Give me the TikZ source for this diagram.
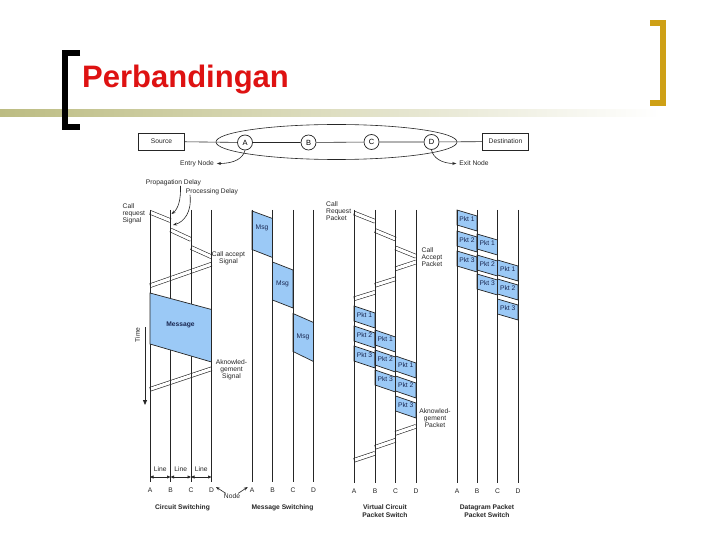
\documentclass[tikz,border=0pt]{standalone}
\usepackage{fontspec}
\setmainfont{Liberation Sans}
\usetikzlibrary{positioning,arrows.meta,shapes.geometric}
\definecolor{titlered}{RGB}{222,18,18}
\definecolor{bracketgold}{RGB}{206,160,22}
\definecolor{barolive}{RGB}{188,188,130}
\definecolor{pktblue}{RGB}{155,201,246}
\definecolor{inkdark}{RGB}{38,38,38}
\definecolor{msgnavy}{RGB}{25,38,80}
\tikzstyle{bracket} = [line width=6pt, line join=miter, line cap=butt]
\tikzstyle{lane} = [draw=inkdark, line width=1pt]
\tikzstyle{wire} = [draw=inkdark, line width=0.6pt]
\tikzstyle{dblsignal} = [draw=inkdark, line width=0.6pt, double=white, double distance=3.2pt]
\tikzstyle{packet} = [draw=inkdark, line width=0.7pt, fill=pktblue]
\tikzstyle{small} = [font=\fontsize{6.7}{7}\selectfont, text=inkdark, inner sep=0pt, align=center]
\tikzstyle{pktlabel} = [small, text=msgnavy]
\tikzstyle{caption} = [small, font=\fontsize{6.7}{7.4}\selectfont\bfseries]
\tikzstyle{box} = [rectangle, small, draw=inkdark, line width=0.6pt, minimum width=46pt, minimum height=17pt]
\tikzstyle{hop} = [circle, draw=inkdark, line width=0.7pt, minimum size=15pt, inner sep=0pt, font=\fontsize{7.5}{8}\selectfont]
\tikzstyle{arr} = [wire, -{Stealth[length=4pt,width=3pt]}]
\tikzstyle{dim} = [wire, {Triangle[length=3.5pt,width=3pt]}-{Triangle[length=3.5pt,width=3pt]}]
% packet: name, left lane, right lane, top, drop, text
\newcommand{\pkt}[6]{%
  \filldraw[packet] (#2,#4) -- (#3,#4+#5) -- (#3,#4+#5+15) -- (#2,#4+15) -- cycle;
  \node[pktlabel](#1) at ({(#2+#3)/2},#4+9){#6};}

\begin{document}
\begin{tikzpicture}[x=1pt,y=-1pt]
        \useasboundingbox (0,0) rectangle (720,540);
        \fill[white] (0,0) rectangle (720,540);
        % Title ------------------------------------------------------------------------------------
        \path[left color=barolive, middle color=barolive!75, right color=white] (0,110) rectangle (660,117);
        \draw[bracket, black] (80,53) -- (65,53) -- (65,127) -- (80,127);
        \draw[bracket, bracketgold] (650,23) -- (663,23) -- (663,103) -- (650,103);
        \node[anchor=base west, inner sep=0pt, text=titlered, font=\fontsize{31}{31}\selectfont\bfseries](title) at (82,88){Perbandingan};
        % Network ----------------------------------------------------------------------------------
        \node[draw=inkdark, line width=0.6pt, ellipse, minimum width=241pt, minimum height=35pt](net) at (336.5,142){};
        \node[box](source) at (161.5,141.5){Source};
        \node[box](dest) at (505.5,141.5){Destination};
        \node[hop, fill=white](hopA) at (245,142.5){A};
        \node[hop, fill=white](hopB) at (308.5,142.5){B};
        \node[hop, fill=white](hopC) at (371.5,142){C};
        \node[hop, fill=white](hopD) at (431.5,142){D};
        \draw[wire] (source) -- (hopA) -- (hopB) -- (hopC) -- (hopD) -- (dest);
        \node[small](entry) at (197,163.5){Entry Node};
        \node[small](exit) at (474,163.5){Exit Node};
        \draw[arr] (hopA.south) .. controls (243,158) and (235,163.5) .. ([xshift=3pt]entry.east);
        \draw[arr] (hopD.south) .. controls (433,158) and (442,163.5) .. ([xshift=-3pt]exit.west);
        % Circuit switching ------------------------------------------------------------------------
        \draw[dblsignal] (150,212.3) -- (170.5,220.6);
        \draw[dblsignal] (170.5,230) -- (191,239.5);
        \draw[dblsignal] (191,247.5) -- (211.5,256.8);
        \draw[dblsignal] (211.5,264.2) -- (150,285.7);
        \draw[dblsignal] (211.5,368.8) -- (150,389.3);
        \draw[lane] (150,210) -- (150,482) node[small, below=5pt](csA){A};
        \draw[lane] (170.5,210) -- (170.5,482) node[small, below=5pt](csB){B};
        \draw[lane] (191,210) -- (191,482) node[small, below=5pt](csC){C};
        \draw[lane] (211.5,210) -- (211.5,482) node[small, below=5pt](csD){D};
        \filldraw[packet] (150,293) -- (211.5,309.5) -- (211.5,362) -- (150,344) -- cycle;
        \node[pktlabel, font=\fontsize{6.7}{7}\selectfont\bfseries](message) at (180.5,325){Message};
        \node[small, align=left, anchor=north west](callreq) at (122.5,203.5){Call\\request\\Signal};
        \node[small](propdelay) at (173.5,182.5){Propagation Delay};
        \node[small](procdelay) at (212,191.5){Processing Delay};
        \draw[arr] ([xshift=7pt]propdelay.south) .. controls (181,200) and (178,209) .. (171.5,214);
        \draw[arr] ([xshift=-22pt]procdelay.south) .. controls (192,212) and (184,222) .. (173,225);
        \node[small](callacc) at (228.5,258){Call accept\\Signal};
        \node[small](ackcs) at (231.5,369.5){Aknowled-\\gement\\Signal};
        \node[small, rotate=90](time) at (137.5,335){Time};
        \draw[line width=0.8pt, draw=inkdark, -{Triangle[length=5pt,width=4pt]}] (145,327) -- (145,405);
        \draw[dim] (150,477) -- (170.5,477) node[small, midway, above=5pt](lineAB){Line};
        \draw[dim] (170.5,477) -- (191,477) node[small, midway, above=5pt](lineBC){Line};
        \draw[dim] (191,477) -- (211.5,477) node[small, midway, above=5pt](lineCD){Line};
        \node[caption](cscap) at (182.5,507.5){Circuit Switching};
        % Message switching ------------------------------------------------------------------------
        \filldraw[packet] (252,211) -- (272.5,218.5) -- (272.5,257.5) -- (252,249.5) -- cycle;
        \node[pktlabel](msg1) at (262,228){Msg};
        \filldraw[packet] (272.5,262) -- (293,270) -- (293,308) -- (272.5,300) -- cycle;
        \node[pktlabel](msg2) at (282.5,284){Msg};
        \filldraw[packet] (293,313.5) -- (313.5,322.5) -- (313.5,361.5) -- (293,351.5) -- cycle;
        \node[pktlabel](msg3) at (303,337){Msg};
        \draw[lane] (252,210) -- (252,482) node[small, below=5pt](msA){A};
        \draw[lane] (272.5,210) -- (272.5,482) node[small, below=5pt](msB){B};
        \draw[lane] (293,210) -- (293,482) node[small, below=5pt](msC){C};
        \draw[lane] (313.5,210) -- (313.5,482) node[small, below=5pt](msD){D};
        \node[small](nodelbl) at (232,496){Node};
        \draw[arr] ([xshift=2pt]nodelbl.north west) -- ([xshift=1.5pt]csD.north east);
        \draw[arr] ([xshift=-2pt]nodelbl.north east) -- ([xshift=-1.5pt]msA.north west);
        \node[caption](mscap) at (282.5,507.5){Message Switching};
        % Virtual circuit packet switch ------------------------------------------------------------
        \draw[dblsignal] (354,213) -- (375,221.3);
        \draw[dblsignal] (375,230.5) -- (395.5,239);
        \draw[dblsignal] (395.5,248) -- (416,256.3);
        \draw[dblsignal] (416,262) -- (395.5,268.8);
        \draw[dblsignal] (395.5,278.8) -- (375,285.3);
        \draw[dblsignal] (375,292.3) -- (354,298.8);
        \pkt{vcA1}{354}{375}{306}{7}{Pkt 1}
        \pkt{vcA2}{354}{375}{326}{7}{Pkt 2}
        \pkt{vcA3}{354}{375}{346}{7}{Pkt 3}
        \pkt{vcB1}{375}{395.5}{330}{7}{Pkt 1}
        \pkt{vcB2}{375}{395.5}{350}{7}{Pkt 2}
        \pkt{vcB3}{375}{395.5}{370}{7}{Pkt 3}
        \pkt{vcC1}{395.5}{416}{356}{7}{Pkt 1}
        \pkt{vcC2}{395.5}{416}{376}{7}{Pkt 2}
        \pkt{vcC3}{395.5}{416}{396}{7}{Pkt 3}
        \draw[dblsignal] (416,426.3) -- (395.5,433.3);
        \draw[dblsignal] (395.5,440.3) -- (375,447.3);
        \draw[dblsignal] (375,453.3) -- (354,460.3);
        \draw[lane] (354,210) -- (354,483) node[small, below=5pt](vcA){A};
        \draw[lane] (375,210) -- (375,483) node[small, below=5pt](vcB){B};
        \draw[lane] (395.5,210) -- (395.5,483) node[small, below=5pt](vcC){C};
        \draw[lane] (416,210) -- (416,483) node[small, below=5pt](vcD){D};
        \node[small, align=left, anchor=north west](callreqpkt) at (326,201.5){Call\\Request\\Packet};
        \node[small, align=left, anchor=north west](callaccpkt) at (421.5,247.5){Call\\Accept\\Packet};
        \node[small](ackvc) at (435,418.5){Aknowled-\\gement\\Packet};
        \node[caption](vccap) at (385,511){Virtual Circuit\\Packet Switch};
        % Datagram packet switch -------------------------------------------------------------------
        \pkt{dgA1}{457}{477}{210}{6}{Pkt 1}
        \pkt{dgA2}{457}{477}{231}{6}{Pkt 2}
        \pkt{dgA3}{457}{477}{251}{6}{Pkt 3}
        \pkt{dgB1}{477}{497.5}{234}{6}{Pkt 1}
        \pkt{dgB2}{477}{497.5}{255}{6}{Pkt 2}
        \pkt{dgB3}{477}{497.5}{274}{6}{Pkt 3}
        \pkt{dgC1}{497.5}{518}{260}{6}{Pkt 1}
        \pkt{dgC2}{497.5}{518}{279}{6}{Pkt 2}
        \pkt{dgC3}{497.5}{518}{299}{6}{Pkt 3}
        \draw[lane] (457,210) -- (457,483) node[small, below=5pt](dgA){A};
        \draw[lane] (477,210) -- (477,483) node[small, below=5pt](dgB){B};
        \draw[lane] (497.5,210) -- (497.5,483) node[small, below=5pt](dgC){C};
        \draw[lane] (518,210) -- (518,483) node[small, below=5pt](dgD){D};
        \node[caption](dgcap) at (487,511){Datagram Packet\\Packet Switch};
    \end{tikzpicture}
\end{document}
